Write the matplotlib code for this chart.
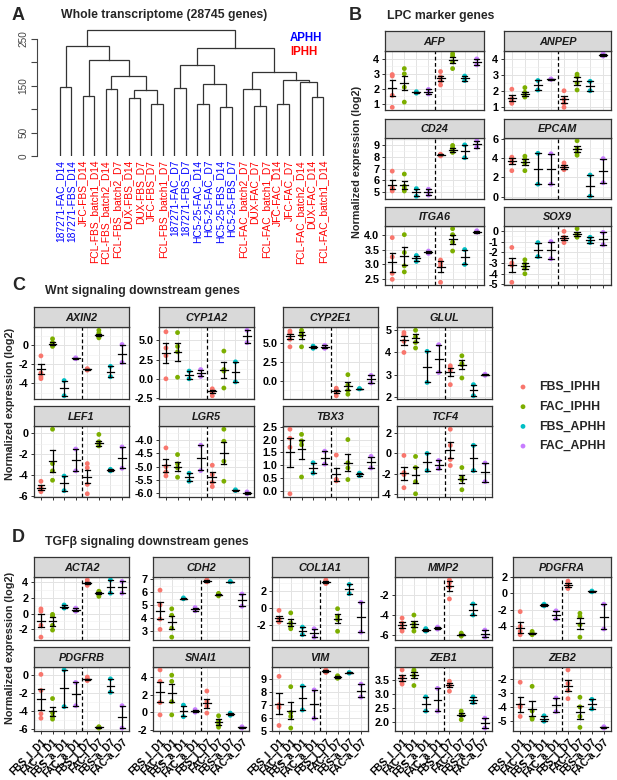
import matplotlib
matplotlib.use("Agg")
import matplotlib.pyplot as plt
import numpy as np
from matplotlib.ticker import AutoMinorLocator

W, H = 617, 780
plt.rcParams["font.family"] = ["Liberation Sans", "DejaVu Sans"]

COLORS = ["#F8766D", "#7CAE00", "#00BFC4", "#C77CFF"]
GROUP_NAMES = ["FBS_IPHH", "FAC_IPHH", "FBS_APHH", "FAC_APHH"]
X_LABELS = ["FBS_I_D1", "FAC_I_D1", "FBS_a_D1", "FAC_a_D1",
            "FBS_I_D7", "FAC-I_D7", "FBS-a_D7", "FAC-a_D7"]

# ---- panel A: hierarchical clustering ----
LEAVES = ["187271-FAC_D14", "187271-FBS_D14", "JFC-FBS_D14", "FCL-FBS_batch1_D14",
          "FCL-FBS_batch2_D14", "FCL-FBS_batch2_D7", "DUX-FBS_D14", "DUX-FBS_D7",
          "JFC-FBS_D7", "FCL-FBS_batch1_D7", "187271-FAC_D7", "187271-FBS_D7",
          "HC5-25-FAC_D14", "HC5-25-FAC_D7", "HC5-25-FBS_D14", "HC5-25-FBS_D7",
          "FCL-FAC_batch2_D7", "DUX-FAC_D7", "FCL-FAC_batch1_D7", "JFC-FAC_D14",
          "JFC-FAC_D7", "FCL-FAC_batch2_D14", "DUX-FAC_D14", "FCL-FAC_batch1_D14"]
LEAF_TYPE = ["A", "A", "I", "I", "I", "I", "I", "I", "I", "I", "A", "A",
             "A", "A", "A", "A", "I", "I", "I", "I", "I", "I", "I", "I"]
# (child a, child b, height); leaves are 0..23, merged clusters 24..
MERGES = [(0, 1, 148), (2, 3, 128), (4, 5, 142.5), (6, 7, 124.6), (8, 9, 111.8),
          (27, 28, 140), (26, 29, 171), (25, 30, 205), (24, 31, 235.7),
          (10, 11, 146), (12, 13, 112), (14, 15, 104), (34, 35, 153), (33, 36, 194),
          (17, 18, 107), (16, 38, 142.5), (19, 20, 110.5), (22, 23, 126.7),
          (21, 41, 157.5), (40, 42, 162), (39, 43, 178.8), (37, 44, 231.5),
          (32, 45, 268.6)]

# ---- panel B: LPC marker genes ----
B_GENES = ["AFP", "ANPEP", "CD24", "EPCAM", "ITGA6", "SOX9"]
B_TICKS = [[1, 2, 3, 4], [1, 2, 3, 4], [5, 6, 7, 8, 9], [0, 2, 4, 6],
           [2.5, 3.0, 3.5, 4.0], [-5, -4, -3, -2, -1, 0]]
B_PTS = [
    [[0.75, 1.55, 2.85, 2.95], [1.1, 2.1, 3.0, 3.35], [1.7, 1.8], [1.65, 1.95],
     [2.25, 2.5, 2.8, 3.15], [3.35, 3.8, 4.2, 4.35], [2.55, 2.85], [3.6, 4.0]],
    [[1.2, 1.35, 1.5, 2.1], [1.6, 1.7, 1.9, 2.2], [2.05, 2.65], [2.72, 2.75],
     [0.95, 1.2, 1.45, 2.0], [2.05, 2.5, 2.9, 3.05], [2.0, 2.6], [4.2, 4.35]],
    [[5.1, 5.3, 5.35, 6.8], [5.1, 5.3, 5.5, 6.55], [4.65, 5.3], [4.75, 5.25],
     [8.1, 8.15, 8.2, 8.25], [8.4, 8.6, 8.8, 9.0], [7.95, 9.05], [8.85, 9.4]],
    [[2.7, 3.6, 3.95, 4.1], [2.7, 3.5, 3.9, 4.2], [1.3, 4.5], [1.3, 4.45],
     [2.8, 3.0, 3.2, 3.5], [4.3, 4.6, 5.0, 5.8], [0.05, 2.25], [1.45, 3.95]],
    [[2.5, 2.7, 3.25, 3.9], [2.75, 2.95, 3.4, 4.0], [3.1, 3.3], [3.37, 3.45],
     [2.4, 2.95, 3.05, 3.15], [3.45, 3.75, 4.0, 4.2], [3.0, 3.5], [4.08, 4.13]],
    [[-4.8, -3.2, -3.0, -1.55], [-4.0, -3.5, -3.1, -2.7], [-2.4, -1.1], [-2.6, -1.0],
     [-1.1, -0.8, -0.6, -0.05], [-0.6, -0.45, -0.3, 0.2], [-1.1, -0.6], [-1.3, -0.15]],
]
B_MEAN = [[2.05, 2.4, 1.75, 1.8, 2.7, 3.95, 2.7, 3.8],
          [1.55, 1.8, 2.35, 2.73, 1.45, 2.6, 2.3, 4.28],
          [5.65, 5.6, 4.97, 5.0, 8.2, 8.6, 8.5, 9.1],
          [3.7, 3.6, 2.9, 2.87, 3.05, 4.95, 1.15, 2.7],
          [3.08, 3.28, 3.2, 3.41, 2.92, 3.85, 3.25, 4.1],
          [-3.15, -3.3, -1.75, -1.8, -0.7, -0.3, -0.85, -0.72]]
B_SE = [[0.52, 0.48, 0.05, 0.15, 0.18, 0.2, 0.15, 0.2],
        [0.2, 0.13, 0.3, 0.02, 0.22, 0.25, 0.3, 0.07],
        [0.38, 0.33, 0.32, 0.25, 0.04, 0.15, 0.55, 0.28],
        [0.3, 0.32, 1.6, 1.58, 0.2, 0.35, 1.1, 1.25],
        [0.32, 0.3, 0.1, 0.04, 0.18, 0.15, 0.25, 0.03],
        [0.65, 0.3, 0.65, 0.8, 0.2, 0.18, 0.25, 0.57]]

# ---- panel C: Wnt signaling ----
C_GENES = ["AXIN2", "CYP1A2", "CYP2E1", "GLUL", "LEF1", "LGR5", "TBX3", "TCF4"]
C_TICKS = [[-4, -2, 0], [-2.5, 0.0, 2.5, 5.0], [0.0, 2.5, 5.0], [2, 3, 4, 5],
           [-6, -4, -2, 0], [-6.0, -5.5, -5.0, -4.5, -4.0],
           [0.0, 0.5, 1.0, 1.5, 2.0, 2.5], [-4, -2, 0, 2]]
C_PTS = [
    [[-3.5, -3.3, -2.9, -1.1], [-0.1, 0.1, 0.3, 0.7], [-5.3, -3.7], [-1.4, -1.3],
     [-2.6, -2.55, -2.5, -2.45], [0.8, 1.0, 1.3, 1.6], [-3.3, -2.2], [-1.8, 0.1]],
    [[0.0, 3.0, 4.0, 6.1], [0.2, 3.5, 4.2, 6.0], [0.0, 1.0], [0.3, 1.2],
     [-2.2, -1.8, -1.5, -1.3], [-1.2, 1.0, 1.2, 3.6], [-0.4, 2.2], [4.7, 6.3]],
    [[4.5, 5.5, 6.3, 6.6], [4.5, 6.0, 6.3, 6.7], [4.3, 4.6], [4.3, 4.7],
     [-2.0, -1.6, -1.2, -1.0], [-1.8, -1.3, -0.6, 0.8], [-1.1, -1.05], [-0.3, 0.7]],
    [[4.0, 4.5, 4.8, 4.9], [4.2, 4.45, 4.7, 5.0], [2.65, 4.05], [3.1, 4.35],
     [2.55, 3.2, 3.3, 3.4], [2.85, 3.45, 3.5, 3.85], [2.05, 2.55], [2.97, 3.02]],
    [[-5.6, -5.4, -5.2, -4.6], [-4.5, -3.6, -2.9, 0.4], [-5.5, -4.1], [-3.6, -1.5],
     [-5.8, -4.9, -3.3, -2.9], [-1.2, -1.0, -0.8, -0.1], [-3.6, -3.45], [-3.35, -1.3]],
    [[-5.35, -5.2, -5.0, -4.3], [-5.4, -5.05, -4.9, -4.55], [-5.55, -5.25], [-5.15, -4.2],
     [-5.75, -5.6, -5.3, -4.95], [-5.55, -4.8, -4.05, -3.6], [-5.9, -5.87], [-6.02, -5.95]],
    [[-0.1, 1.7, 2.05, 2.4], [0.55, 1.8, 1.95, 2.2], [0.7, 1.1], [1.05, 1.55],
     [0.4, 0.45, 0.45, 1.4], [0.45, 0.9, 1.1, 2.0], [0.6, 0.7], [0.9, 1.35]],
    [[-3.4, -2.1, -1.9, -0.2], [-4.0, -2.8, -1.4, -0.3], [-1.7, 0.0], [-1.5, -0.7],
     [-1.2, -0.6, 0.8, 2.4], [-3.6, -2.6, -2.4, -1.4], [-1.7, 0.8], [-2.8, -0.95]],
]
C_MEAN = [[-2.5, 0.2, -4.5, -1.35, -2.52, 1.1, -2.75, -0.85],
          [3.35, 3.5, 0.5, 0.75, -1.65, 1.15, 0.9, 5.5],
          [5.9, 6.05, 4.45, 4.5, -1.4, -0.75, -1.07, 0.2],
          [4.55, 4.65, 3.35, 3.72, 3.12, 3.45, 2.3, 3.0],
          [-5.2, -2.65, -4.8, -2.55, -4.15, -0.95, -3.52, -2.32],
          [-4.95, -5.0, -5.4, -4.67, -5.4, -4.5, -5.88, -5.98],
          [1.5, 1.62, 0.9, 1.3, 0.65, 1.1, 0.65, 1.12],
          [-1.95, -2.15, -0.85, -1.1, 0.35, -2.5, -0.45, -1.88]]
C_SE = [[0.55, 0.15, 0.8, 0.05, 0.05, 0.15, 0.55, 0.95],
        [1.25, 1.2, 0.5, 0.45, 0.2, 1.0, 1.3, 0.8],
        [0.35, 0.45, 0.15, 0.2, 0.22, 0.55, 0.03, 0.5],
        [0.2, 0.2, 0.7, 0.62, 0.2, 0.2, 0.25, 0.03],
        [0.2, 1.05, 0.7, 1.05, 0.65, 0.25, 0.08, 1.02],
        [0.25, 0.17, 0.15, 0.47, 0.18, 0.42, 0.02, 0.03],
        [0.55, 0.37, 0.2, 0.25, 0.25, 0.33, 0.05, 0.22],
        [0.65, 0.8, 0.85, 0.4, 0.8, 0.4, 1.25, 0.92]]

# ---- panel D: TGFb signaling ----
D_GENES = ["ACTA2", "CDH2", "COL1A1", "MMP2", "PDGFRA",
           "PDGFRB", "SNAI1", "VIM", "ZEB1", "ZEB2"]
D_TICKS = [[-2, 0, 2, 4], [3, 4, 5, 6, 7], [-2, 0, 2], [-6, -4, -2], [-4, -2, 0, 2],
           [-6, -4, -2, 0], [-2, 0, 2, 4], [5, 6, 7, 8, 9], [2.0, 2.5, 3.0, 3.5],
           [-5, -4, -3, -2]]
D_PTS = [
    [[-3.0, -1.5, 0.3, 0.6], [-2.1, -1.5, -0.3, -0.1], [0.7, 1.1], [0.3, 0.7],
     [3.6, 3.8, 4.0, 4.3], [2.2, 2.5, 2.7, 2.85], [2.6, 4.3], [2.6, 4.1]],
    [[3.1, 3.9, 5.0, 6.15], [2.5, 3.2, 4.2, 4.7], [5.48, 5.55], [4.55, 4.8],
     [6.8, 6.85, 6.9, 6.95], [5.7, 5.8, 5.85, 5.9], [6.8, 6.82], [4.9, 5.85]],
    [[-1.7, -1.5, -1.3, -0.3], [-2.5, -2.2, -1.8, -0.6], [-3.2, -2.3], [-3.5, -2.5],
     [2.9, 3.05, 3.2, 3.35], [-2.8, -1.4, -1.0, -0.1], [1.7, 2.8], [-2.9, 0.65]],
    [[-5.6, -5.3, -4.8, -4.3], [-5.6, -5.2, -4.9, -4.0], [-5.6, -5.35], [-5.4, -5.2],
     [-2.4, -1.2, -0.8, -0.5], [-6.1, -6.0, -5.9, -5.8], [-4.0, -2.9], [-6.2, -5.5]],
    [[-5.0, -4.6, -4.0, -2.2], [-5.0, -4.9, -4.8, -4.6], [-1.5, -1.3], [-3.1, -2.1],
     [0.6, 0.8, 1.2, 1.5], [-5.3, -3.8, -2.8, -2.4], [0.2, 0.3], [-4.3, -1.3]],
    [[-4.8, -4.3, -1.7, 0.1], [-4.9, -4.6, -4.2, -2.6], [-3.5, 0.6], [-3.4, -0.8],
     [-0.6, -0.5, -0.4, -0.2], [-5.9, -5.85, -5.8, -5.75], [-1.9, -0.4], [-5.9, -3.4]],
    [[-0.3, 1.1, 3.5, 4.8], [-0.3, 1.2, 3.5, 4.2], [-0.5, 0.8], [0.0, 0.3],
     [-0.1, 0.7, 1.2, 2.4], [-1.7, -1.4, -1.0, -0.4], [-0.35, -0.1], [-1.8, -1.65]],
    [[5.4, 6.8, 7.0, 9.2], [5.2, 6.1, 6.4, 8.4], [6.6, 8.45], [5.95, 8.15],
     [9.5, 9.6, 9.65, 9.7], [9.05, 9.1, 9.2, 9.25], [9.45, 9.5], [7.6, 8.6]],
    [[3.35, 3.45, 3.6, 3.85], [3.3, 3.65, 3.8, 3.85], [2.4, 2.9], [2.4, 3.2],
     [3.1, 3.3, 3.35, 3.45], [2.1, 2.25, 2.3, 2.4], [2.7, 2.9], [1.8, 2.15]],
    [[-4.7, -4.0, -3.9, -2.2], [-4.9, -4.8, -4.3, -2.5], [-5.05, -4.65], [-4.35, -3.35],
     [-3.4, -2.8, -2.3, -1.3], [-5.5, -4.7, -4.0, -3.3], [-4.15, -3.45], [-5.55, -5.45]],
]
D_MEAN = [[-0.9, -1.0, 0.9, 0.5, 3.9, 2.6, 3.45, 3.35],
          [4.55, 3.65, 5.5, 4.67, 6.87, 5.8, 6.81, 5.37],
          [-1.25, -1.75, -2.75, -3.0, 3.1, -1.3, 2.25, -1.12],
          [-5.0, -4.9, -5.47, -5.3, -1.1, -5.95, -3.45, -5.85],
          [-4.15, -4.85, -1.4, -2.6, 1.0, -3.6, 0.25, -2.8],
          [-2.7, -4.0, -1.45, -2.1, -0.45, -5.82, -1.15, -4.65],
          [2.3, 2.15, 0.15, 0.15, 1.0, -1.1, -0.22, -1.72],
          [7.1, 6.55, 7.52, 7.05, 9.62, 9.15, 9.47, 8.1],
          [3.57, 3.67, 2.65, 2.8, 3.32, 2.27, 2.8, 1.98],
          [-3.8, -4.15, -4.85, -3.85, -2.45, -4.4, -3.8, -5.5]]
D_SE = [[0.85, 0.55, 0.2, 0.2, 0.15, 0.15, 0.85, 0.75],
        [0.65, 0.5, 0.03, 0.12, 0.05, 0.05, 0.01, 0.47],
        [0.3, 0.4, 0.45, 0.5, 0.1, 0.55, 0.55, 1.78],
        [0.28, 0.33, 0.12, 0.1, 0.5, 0.08, 0.55, 0.35],
        [0.65, 0.1, 0.1, 0.5, 0.25, 0.65, 0.05, 1.5],
        [1.15, 0.5, 2.05, 1.3, 0.08, 0.05, 0.75, 1.25],
        [1.1, 1.0, 0.6, 0.15, 0.5, 0.3, 0.12, 0.07],
        [0.78, 0.68, 0.92, 1.1, 0.05, 0.05, 0.03, 0.5],
        [0.1, 0.12, 0.25, 0.4, 0.08, 0.06, 0.1, 0.17],
        [0.55, 0.55, 0.2, 0.5, 0.4, 0.48, 0.35, 0.05]]

BORDER = "#333333"
TXT = "#262626"


def rect(x0, y0, x1, y1):
    return [x0 / W, 1 - y1 / H, (x1 - x0) / W, (y1 - y0) / H]


def fmt_ticks(ticks):
    if any(abs(t - round(t)) > 1e-9 for t in ticks):
        return ["%.1f" % t for t in ticks]
    return ["%d" % round(t) for t in ticks]


def facet(fig, box, gene, pts, mean, se, ticks, xticks=False, xlabels=False):
    x0, x1, top, mid, bot = box
    ax = fig.add_axes(rect(x0, mid, x1, bot))
    sax = fig.add_axes(rect(x0, top, x1, mid))

    sax.set_facecolor("#D9D9D9")
    sax.set_xticks([])
    sax.set_yticks([])
    for s in sax.spines.values():
        s.set_color(BORDER)
        s.set_linewidth(0.9)
    sax.text(0.5, 0.45, gene, ha="center", va="center", fontsize=7.8,
             fontweight="bold", fontstyle="italic", color="#1A1A1A",
             transform=sax.transAxes)

    xs = np.arange(1, 9)
    mean = np.asarray(mean)
    se = np.asarray(se)
    allv = np.concatenate([np.concatenate([np.asarray(p) for p in pts]), mean - se, mean + se])
    lo, hi = allv.min(), allv.max()
    pad = 0.05 * (hi - lo)
    ax.set_ylim(lo - pad, hi + pad)
    ax.set_xlim(0.4, 8.6)

    ax.set_xticks(xs)
    ax.set_yticks(ticks)
    ax.yaxis.set_minor_locator(AutoMinorLocator(2))
    ax.set_yticklabels(fmt_ticks(ticks), fontsize=7.8, fontweight="bold", color="black")
    ax.grid(True, which="major", color="#E3E3E3", lw=0.7, zorder=0)
    ax.grid(True, which="minor", axis="y", color="#EFEFEF", lw=0.4, zorder=0)
    ax.set_axisbelow(True)
    ax.tick_params(axis="y", which="major", length=2.5, width=0.7, color=BORDER, pad=1.5)
    ax.tick_params(axis="y", which="minor", length=0)
    if xticks:
        ax.tick_params(axis="x", length=2.5, width=0.7, color=BORDER, pad=1.5)
    else:
        ax.tick_params(axis="x", length=0)
    if xlabels:
        ax.set_xticklabels(X_LABELS, rotation=45, ha="right", rotation_mode="anchor",
                           fontsize=7.2, fontweight="bold", color="black")
    else:
        ax.set_xticklabels([])
    for s in ax.spines.values():
        s.set_color(BORDER)
        s.set_linewidth(0.9)

    ax.axvline(4.5, color="black", ls=(0, (3, 2)), lw=0.9, zorder=2)
    for i in range(8):
        ax.scatter(np.full(len(pts[i]), xs[i]), pts[i], s=12, color=COLORS[i % 4],
                   edgecolors="none", zorder=3)
        m, e = mean[i], se[i]
        ax.plot([xs[i] - 0.33, xs[i] + 0.33], [m, m], color="black", lw=0.9, zorder=4)
        ax.plot([xs[i], xs[i]], [m - e, m + e], color="black", lw=0.9, zorder=4)
        for yy in (m - e, m + e):
            ax.plot([xs[i] - 0.22, xs[i] + 0.22], [yy, yy], color="black", lw=0.9, zorder=4)
    return ax


def draw_dendrogram(fig):
    ax = fig.add_axes(rect(37, 28, 330, 156))
    px_per_leaf = (323 - 60) / 23.0
    ax.set_xlim(1 - (60 - 37) / px_per_leaf, 24 + (330 - 323) / px_per_leaf)
    ax.set_ylim(0, 273.5)

    pos = {i: i + 1.0 for i in range(len(LEAVES))}
    hgt = {i: 0.0 for i in range(len(LEAVES))}
    for k, (a, b, h) in enumerate(MERGES):
        node = len(LEAVES) + k
        ax.plot([pos[a], pos[a], pos[b], pos[b]], [hgt[a], h, h, hgt[b]],
                color="#333333", lw=0.9, solid_joinstyle="miter")
        pos[node] = (pos[a] + pos[b]) / 2
        hgt[node] = h

    for s in ["top", "right", "bottom"]:
        ax.spines[s].set_visible(False)
    ax.spines["left"].set_bounds(0, 250)
    ax.spines["left"].set_color("#444444")
    ax.spines["left"].set_linewidth(0.8)
    ax.set_xticks([])
    ax.set_yticks([0, 50, 100, 150, 200, 250])
    ax.set_yticklabels(["0", "50", "", "150", "", "250"], rotation=90, va="center",
                       fontsize=7.2, color="#444444")
    ax.tick_params(axis="y", length=4, width=0.8, color="#444444", pad=2)

    for i, name in enumerate(LEAVES):
        col = "#0000FF" if LEAF_TYPE[i] == "A" else "#FF0000"
        ax.text(i + 1, -8.5, name, rotation=90, ha="center", va="top",
                fontsize=7.4, color=col, clip_on=False)


def main():
    fig = plt.figure(figsize=(W / 100, H / 100), dpi=100)

    # panel letters and titles
    for letter, x, y in [("A", 12, 16), ("B", 349, 16), ("C", 12, 285), ("D", 12, 537)]:
        fig.text(x / W, 1 - y / H, letter, fontsize=13, fontweight="bold",
                 color=TXT, ha="left", va="center")
    fig.text(164 / W, 1 - 15 / H, "Whole transcriptome (28745 genes)", fontsize=8.8,
             fontweight="bold", color=TXT, ha="center", va="center")
    fig.text(387 / W, 1 - 16 / H, "LPC marker genes", fontsize=8.8,
             fontweight="bold", color=TXT, ha="left", va="center")
    fig.text(45 / W, 1 - 291 / H, "Wnt signaling downstream genes", fontsize=8.8,
             fontweight="bold", color=TXT, ha="left", va="center")
    fig.text(45 / W, 1 - 542 / H, "TGF\u03b2 signaling downstream genes", fontsize=8.8,
             fontweight="bold", color=TXT, ha="left", va="center")

    # A
    draw_dendrogram(fig)
    fig.text(290 / W, 1 - 38 / H, "APHH", fontsize=8.3, fontweight="bold", color="#0000FF",
             ha="left", va="center")
    fig.text(290 / W, 1 - 52 / H, "IPHH", fontsize=8.3, fontweight="bold", color="#FF0000",
             ha="left", va="center")

    # B
    b_cols = [(385, 484), (504, 611)]
    b_rows = [(31, 51, 110), (119, 138, 199), (207, 226, 285)]
    for k, gene in enumerate(B_GENES):
        r, c = divmod(k, 2)
        box = (*b_cols[c], *b_rows[r])
        facet(fig, box, gene, B_PTS[k], B_MEAN[k], B_SE[k], B_TICKS[k], xticks=(r == 2))
    fig.text(357 / W, 1 - 162 / H, "Normalized expression (log2)", rotation=90,
             fontsize=7.8, fontweight="bold", color=TXT, ha="center", va="center")

    # C
    c_cols = [(34, 129), (159, 254), (283, 378), (397, 492)]
    c_rows = [(307, 327, 399), (406, 426, 497)]
    for k, gene in enumerate(C_GENES):
        r, c = divmod(k, 4)
        box = (*c_cols[c], *c_rows[r])
        facet(fig, box, gene, C_PTS[k], C_MEAN[k], C_SE[k], C_TICKS[k], xticks=(r == 1))
    fig.text(10 / W, 1 - 404 / H, "Normalized expression (log2)", rotation=90,
             fontsize=7.8, fontweight="bold", color=TXT, ha="center", va="center")

    # legend
    lax = fig.add_axes(rect(505, 370, 617, 460))
    lax.set_xlim(505, 617)
    lax.set_ylim(460, 370)
    lax.axis("off")
    for i, name in enumerate(GROUP_NAMES):
        y = 387 + i * 19.7
        lax.scatter([523], [y], s=12, color=COLORS[i], edgecolors="none")
        lax.text(539, y, name, fontsize=8.8, fontweight="bold", color=TXT,
                 ha="left", va="center")

    # D
    d_cols = [(34, 129), (153, 249), (272, 368), (395, 492), (513, 611)]
    d_rows = [(557, 577, 640), (647, 667, 731)]
    for k, gene in enumerate(D_GENES):
        r, c = divmod(k, 5)
        box = (*d_cols[c], *d_rows[r])
        facet(fig, box, gene, D_PTS[k], D_MEAN[k], D_SE[k], D_TICKS[k],
              xticks=(r == 1), xlabels=(r == 1))
    fig.text(10 / W, 1 - 648 / H, "Normalized expression (log2)", rotation=90,
             fontsize=7.8, fontweight="bold", color=TXT, ha="center", va="center")

    fig.savefig("out.png", dpi=100)
    plt.close(fig)


if __name__ == "__main__":
    main()
